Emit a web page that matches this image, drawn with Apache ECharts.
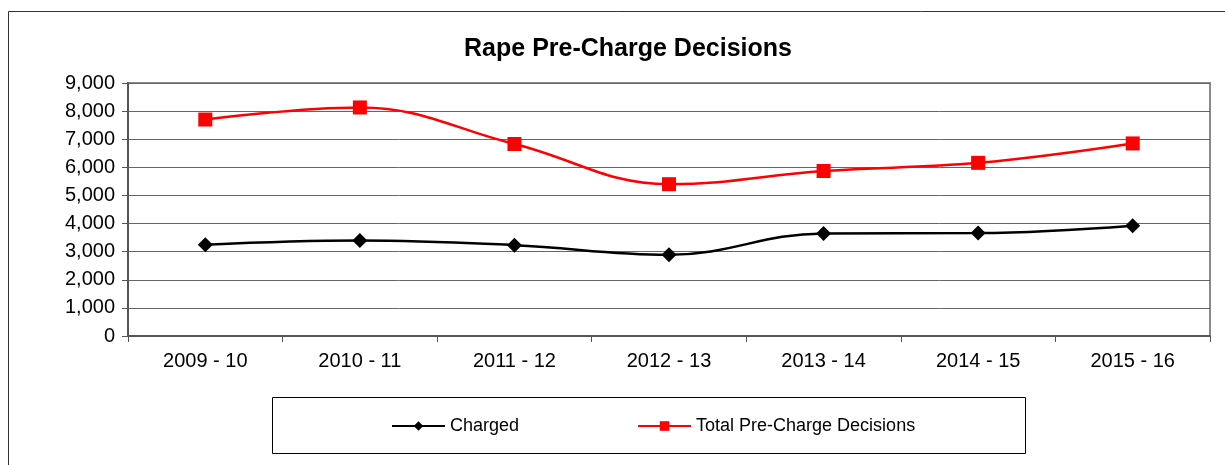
<!DOCTYPE html>
<html>
<head>
<meta charset="utf-8">
<title>Rape Pre-Charge Decisions</title>
<script src="https://cdn.jsdelivr.net/npm/echarts@6/dist/echarts.min.js"></script>
<style>
  html, body { margin: 0; padding: 0; background: #fff; }
  #chart { width: 1225px; height: 465px; }
</style>
</head>
<body>
<div id="chart"></div>
<script>
// data
var years = ['2009 - 10', '2010 - 11', '2011 - 12', '2012 - 13', '2013 - 14', '2014 - 15', '2015 - 16'];
var charged = [3250, 3400, 3230, 2890, 3650, 3660, 3920];
var totalDecisions = [7700, 8130, 6830, 5400, 5870, 6160, 6850];
var yTicks = { min: 0, max: 9000, step: 1000 };

var font = '"Liberation Sans", Arial, sans-serif';

var chart = echarts.init(document.getElementById('chart'));

var option = {
    backgroundColor: '#fff',
    animation: false,
    title: {
        text: 'Rape Pre-Charge Decisions',
        left: 623,
        top: 32,
        textAlign: 'center',
        textStyle: { fontFamily: font, fontSize: 25, fontWeight: 'bold', color: '#000' }
    },
    grid: {
        left: 128,
        right: 15,
        top: 83,
        bottom: 129,
        show: true,
        borderColor: '#8a8a8a',
        borderWidth: 2,
        backgroundColor: '#fff'
    },
    legend: {
        left: 386,
        top: 412,
        itemWidth: 53,
        itemHeight: 12,
        itemGap: 118,
        textStyle: { fontFamily: font, fontSize: 18, color: '#000' },
        data: ['Charged', 'Total Pre-Charge Decisions']
    },
    xAxis: {
        type: 'category',
        data: years,
        boundaryGap: true,
        axisLine: { lineStyle: { color: '#555', width: 2 } },
        axisTick: { show: true, length: 6, inside: false, lineStyle: { color: '#555', width: 1 } },
        axisLabel: { fontFamily: font, fontSize: 20, color: '#000', margin: 15 },
        splitLine: { show: false }
    },
    yAxis: {
        type: 'value',
        min: yTicks.min,
        max: yTicks.max,
        interval: yTicks.step,
        axisLine: { show: true, lineStyle: { color: '#555', width: 2 } },
        axisTick: { show: true, length: 6, lineStyle: { color: '#555', width: 1 } },
        axisLabel: {
            fontFamily: font, fontSize: 20, color: '#000', margin: 13,
            formatter: function (v) { return v.toLocaleString('en-US'); }
        },
        splitLine: { show: true, lineStyle: { color: '#666', width: 1 } }
    },
    series: [
        {
            name: 'Charged',
            type: 'line',
            data: charged,
            smooth: 0.4,
            symbol: 'diamond',
            symbolSize: [15, 15],
            itemStyle: { color: '#000' },
            lineStyle: { color: '#000', width: 2.5 },
            z: 3
        },
        {
            name: 'Total Pre-Charge Decisions',
            type: 'line',
            data: totalDecisions,
            smooth: 0.4,
            symbol: 'rect',
            symbolSize: 14,
            itemStyle: { color: '#ff0000' },
            lineStyle: { color: '#ff0000', width: 2.5 },
            z: 3
        }
    ],
    graphic: [
        {
            // outer chart frame (cut off at the right and bottom)
            type: 'rect',
            shape: { x: 8.5, y: 11.5, width: 1400, height: 600 },
            style: { fill: null, stroke: '#333', lineWidth: 1 },
            silent: true,
            z: -1
        },
        {
            // legend frame
            type: 'rect',
            shape: { x: 272.5, y: 397.5, width: 753, height: 56 },
            style: { fill: null, stroke: '#000', lineWidth: 1 },
            silent: true
        }
    ]
};

chart.setOption(option);
</script>
</body>
</html>
